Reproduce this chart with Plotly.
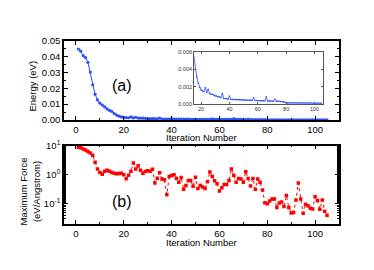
import plotly.graph_objects as go

iterations = list(range(1, 106))

energy = [
    0.0448, 0.0434, 0.0406, 0.0394, 0.0364, 0.0302, 0.0222, 0.0162, 0.0127, 0.0106,
    0.0094, 0.0082, 0.0070, 0.0061, 0.0054, 0.0040, 0.0031, 0.0024, 0.0019, 0.0016,
    0.0015, 0.0014, 0.0019, 0.0013, 0.0017, 0.0012, 0.0011, 0.0011, 0.0010, 0.0009,
    0.0009, 0.0008, 0.0008, 0.0007, 0.0012, 0.0006, 0.0006, 0.0006, 0.0005, 0.0009,
    0.0005, 0.0005, 0.0005, 0.0005, 0.0005, 0.00048, 0.00047, 0.00046, 0.00045, 0.00044,
    0.00043, 0.00042, 0.00041, 0.0004, 0.0004, 0.0004, 0.0007, 0.00039, 0.00038, 0.00037,
    0.00036, 0.00035, 0.00035, 0.00034, 0.00034, 0.0008, 0.00033, 0.00032, 0.00031, 0.0003,
    0.0003, 0.00055, 0.0003, 0.00029, 0.00028, 0.00027, 0.00026, 0.00024, 0.00018, 0.0001,
    0.0001, 0.0001, 0.0001, 0.0001, 0.0001, 0.0001, 0.0001, 0.0001, 0.0001, 0.00009,
    0.00009, 0.00009, 0.00009, 0.00009, 0.00008, 0.00008, 0.00008, 0.00008, 0.00007, 0.00007,
    0.00007, 0.00006, 0.00006, 0.00006, 0.00005,
]

log_force = [
    0.95, 0.93, 0.89, 0.85, 0.80, 0.75, 0.67, 0.43, 0.20, 0.08,
    0.02, 0.12, 0.15, 0.12, 0.08, 0.05, 0.03, 0.04, 0.05, 0.00,
    -0.14, -0.02, 0.12, 0.40, 0.20, 0.31, 0.15, 0.05, 0.11, 0.14,
    0.12, 0.19, -0.29, -0.12, 0.07, -0.15, -0.17, -0.69, -0.06, -0.03,
    0.00, -0.12, -0.26, -0.10, -0.50, -0.37, -0.20, -0.20, -0.40, -0.09,
    -0.48, -0.37, -0.42, -0.48, -0.24, 0.09, -0.06, -0.21, -0.31, -0.56,
    -0.45, -0.34, -0.34, -0.20, 0.20, -0.02, -0.26, -0.13, -0.15, -0.26,
    0.10, -0.13, -0.39, -0.13, -0.50, -0.15, -0.26, -0.53, -0.97, -1.00,
    -0.91, -0.84, -0.84, -1.13, -0.98, -0.94, -1.10, -0.72, -1.13, -1.32,
    -1.30, -0.87, -0.29, -0.84, -1.33, -1.02, -1.07, -1.16, -1.18, -0.76,
    -0.89, -1.19, -0.87, -1.26, -1.40,
]
force = [10 ** v for v in log_force]

x_ticks = [0, 20, 40, 60, 80, 100]
inset_x_ticks = [20, 40, 60, 80, 100]
force_tickvals = [0.1, 1, 10]
force_ticktext = ["10<sup>-1</sup>", "10<sup>0</sup>", "10<sup>1</sup>"]

FONT = "Liberation Sans, Arial, sans-serif"
BLUE = "#2f4dff"
RED = "#ff0000"
FS = 9.5

# page body has an 8px margin: figure pixel = screen pixel - 8
OFF = 8
W, H = 366, 262


def dx(a, b):
    return [(a - OFF) / W, (b - OFF) / W]


def dy(top, bottom):
    return [1 - (bottom - OFF) / H, 1 - (top - OFF) / H]


fig = go.Figure()

fig.add_trace(go.Scatter(
    x=iterations, y=energy, mode="lines+markers",
    line=dict(color=BLUE, width=1), marker=dict(color=BLUE, size=3.2),
    xaxis="x", yaxis="y", showlegend=False))

inset_x = [i for i in iterations if i >= 15]
inset_e = [e for i, e in zip(iterations, energy) if i >= 15]
fig.add_trace(go.Scatter(
    x=inset_x, y=inset_e, mode="lines+markers",
    line=dict(color=BLUE, width=0.8), marker=dict(color=BLUE, size=1.5),
    xaxis="x3", yaxis="y3", showlegend=False))

fig.add_trace(go.Scatter(
    x=iterations, y=force, mode="lines+markers",
    line=dict(color=RED, width=1, dash="dot"), marker=dict(color=RED, size=3.5, symbol="square"),
    xaxis="x2", yaxis="y2", showlegend=False))

axis_common = dict(showline=True, linecolor="black", linewidth=1.5, mirror="ticks",
                   ticks="inside", ticklen=4, tickcolor="black", showgrid=False, zeroline=False,
                   tickfont=dict(family=FONT, size=FS, color="black"))
inset_common = dict(showline=True, linecolor="#555555", linewidth=0.8, mirror="ticks", ticks="inside",
                    ticklen=2, tickcolor="#555555", showgrid=False, zeroline=False,
                    tickfont=dict(family=FONT, size=5.5, color="#333333"))

fig.update_layout(
    width=W, height=H,
    margin=dict(l=0, r=0, t=0, b=0),
    paper_bgcolor="white", plot_bgcolor="white",
    font=dict(family=FONT, color="black"),
    xaxis=dict(domain=dx(64, 339), anchor="y", range=[-5, 110], tickvals=x_ticks,
               minor=dict(dtick=10, ticks="inside", ticklen=2, tickcolor="black"), **axis_common),
    yaxis=dict(domain=dy(35, 118), anchor="x", range=[0, 0.05], dtick=0.01, tickformat=".2f",
               minor=dict(dtick=0.005, ticks="inside", ticklen=2, tickcolor="black"), **axis_common),
    xaxis2=dict(domain=dx(64, 339), anchor="y2", range=[-5, 110], tickvals=x_ticks,
                minor=dict(dtick=10, ticks="inside", ticklen=2, tickcolor="black"), **axis_common),
    yaxis2=dict(domain=dy(145, 227), anchor="x2", type="log", range=[-1.7, 1],
                tickvals=force_tickvals, ticktext=force_ticktext,
                minor=dict(ticks="inside", ticklen=2, tickcolor="black"), **axis_common),
    xaxis3=dict(domain=dx(194, 323), anchor="y3", range=[15, 106], tickvals=inset_x_ticks,
                **inset_common),
    yaxis3=dict(domain=dy(47, 101), anchor="x3", range=[0, 0.006], dtick=0.002, tickformat=".3f",
                **inset_common),
)

labels = [
    ("Energy (eV)", 33, 83, -90, FS),
    ("Iteration Number", 201, 136, 0, FS),
    ("Iteration Number", 201, 246, 0, FS),
    ("Maximum Force<br>(eV/Angstrom)", 30, 193, -90, FS),
    ("(a)", 122, 82, 0, 16),
    ("(b)", 122, 203, 0, 16),
]
for text, px, py, ang, size in labels:
    fig.add_annotation(text=text, xref="paper", yref="paper",
                       x=(px - OFF) / W, y=1 - (py - OFF) / H,
                       xanchor="center", yanchor="middle", showarrow=False, textangle=ang,
                       font=dict(size=size, family=FONT, color="black"))

fig.write_html("out.html")
